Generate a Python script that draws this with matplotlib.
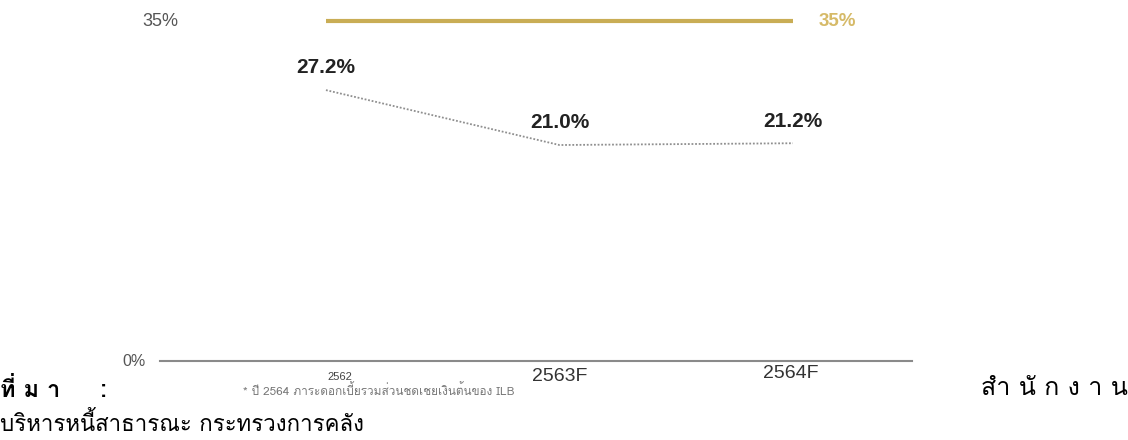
import matplotlib
matplotlib.use("Agg")
import matplotlib.pyplot as plt

# ภาระดอกเบี้ยต่อประมาณการรายได้ (%)
years = ["2562", "2563F", "2564F"]
ratio = [27.2, 21.0, 21.2]
ceiling = 35
ceiling_label = "35%"
base_label = "0%"
footnote = "* ปี 2564 ภาระดอกเบี้ยรวมส่วนชดเชยเงินต้นของ ILB"
source_head = "ที่ ม า     :"
source_tail = "สำ นั ก ง า น"
source_line2 = "บริหารหนี้สาธารณะ กระทรวงการคลัง"

latin = ["Liberation Sans", "DejaVu Sans"]
thai = ["Loma", "Noto Sans Thai Looped", "DejaVu Sans"]

fig = plt.figure(figsize=(11.28, 4.4), dpi=100)
ax = fig.add_axes([0.1418, 0.1795, 0.6667, 0.7727])
ax.set_xlim(-0.711, 2.51)
ybase = -3.39
ax.set_ylim(ybase, 35)

x = list(range(len(years)))

# เพดานสัดส่วน 35%
ax.plot([x[0], x[-1]], [ceiling, ceiling], color="#C9AD55", lw=3,
        solid_capstyle="butt", clip_on=False)
ax.text(x[-1] + 0.19, ceiling, ceiling_label, color="#D6BA68", fontsize=13.5,
        fontweight="bold", family=latin, ha="center", va="center")
ax.text(-0.711 + 0.08, ceiling, ceiling_label, color="#555555", fontsize=13,
        family=latin, ha="right", va="center")

# สัดส่วนจริง / ประมาณการ
ax.plot(x, ratio, color="#8f8f8f", lw=1.3, ls=(0, (1, 1)), clip_on=False)
for xi, v in zip(x, ratio):
    ax.annotate("%.1f%%" % v, (xi, v), xytext=(0, 16), textcoords="offset points",
                ha="center", va="center", fontsize=15, fontweight="bold",
                color="#222222", family=latin)

# เส้นฐาน 0%
ax.axhline(ybase, color="#8a8a8a", lw=1.5, clip_on=False)
ax.text(-0.711 - 0.06, ybase, base_label, color="#555555", fontsize=11.5,
        family=latin, ha="right", va="center")

for s in ax.spines.values():
    s.set_visible(False)
ax.set_xticks([])
ax.set_yticks([])

# ป้ายปี
ax.text(x[0] + 0.06, ybase - 1.2, years[0], fontsize=8, color="#444444",
        family=latin, ha="center", va="top")
ax.text(x[1], ybase - 0.8, years[1], fontsize=14, color="#333333",
        family=latin, ha="center", va="top")
ax.text(x[2] - 0.01, ybase - 0.5, years[2], fontsize=14, color="#333333",
        family=latin, ha="center", va="top")

fig.text(243 / 1128, 1 - 390 / 440, footnote, fontsize=8.5, color="#777777",
         family=thai, ha="left", va="center")

# แหล่งที่มา
fig.text(0.0, 1 - 390 / 440, source_head, fontsize=17, fontweight="bold",
         color="black", family=thai, ha="left", va="center")
fig.text(1.0, 1 - 388 / 440, source_tail, fontsize=18, color="black",
         family=thai, ha="right", va="center")
fig.text(0.0, 1 - 424 / 440, source_line2, fontsize=16, color="black",
         family=thai, ha="left", va="center")

fig.savefig("out.png", dpi=100)
